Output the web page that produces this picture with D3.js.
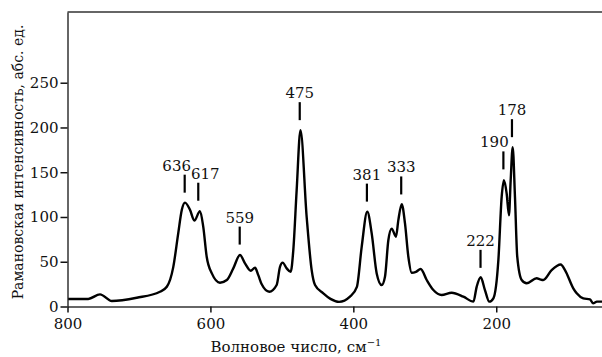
<!DOCTYPE html>
<html>
<head>
<meta charset="utf-8">
<script src="https://cdn.jsdelivr.net/npm/d3@7"></script>
<style>
  html, body { margin: 0; padding: 0; background: #fff; }
  svg { display: block; }
  text { font-family: "DejaVu Serif", serif; fill: #111; }
</style>
</head>
<body>
<svg id="chart" width="602" height="357"></svg>
<script>
// Raman spectrum: wavenumber (cm^-1) and intensity (arb. units)
const wavenumbers = [
  799, 771, 754.5, 738, 703, 670.6, 661, 652, 645, 640, 635.6, 628.6, 622.5, 614.6, 610,
  605.2, 598, 586.6, 577, 568, 558.6, 551.6, 543.6, 537.6, 533, 528.2, 517.6, 507.3, 502.6,
  498.9, 493.3, 487.7, 484, 479.3, 474, 465.3, 458.3, 453.6, 442, 432, 420, 404.7, 395,
  388.3, 380.5, 374.3, 367.3, 360.3, 355.7, 351, 346.3, 340.3, 337, 332.3, 327.7, 323,
  318.3, 312.3, 305.8, 297.3, 288, 276.4, 262.4, 246, 232, 227.4, 221.8, 215.8, 209.7,
  204, 197, 192.4, 189.2, 185.4, 182.2, 179.8, 177, 173.8, 170.6, 164.4, 157.4, 143.4,
  138.8, 134.2, 122.5, 109.8, 103.8, 92.2, 87.4, 78.2, 68.8, 64.6, 59, 52
];
const intensities = [
  8.4, 8.4, 13.6, 6.1, 9.8, 16.5, 22, 44, 82, 108, 116, 108, 96, 106.6, 89,
  55.6, 37, 26.6, 29.6, 42.6, 57.5, 48.2, 40, 43.3, 35, 24.8, 16.5, 24, 44.4,
  49, 42.6, 38.8, 63, 130, 197, 100, 40.7, 24, 14.7, 8.5, 5.2, 11, 22,
  66.7, 105.8, 81.7, 37, 24, 33.3, 74, 87, 78, 96.5, 114.4, 92.8, 55.6,
  37.7, 38.8, 41.9, 29.6, 18.4, 12.8, 15.4, 11, 5.4, 22, 32.6, 18.4, 5.4,
  9.1, 52, 122.5, 141, 126, 102, 141, 178, 122.5, 55.6, 29.6, 25.9, 31.5,
  30.4, 29.6, 40.7, 47, 40.7, 20.3, 14.7, 9.1, 8, 3.6, 5.4, 5.4
];

// Annotated peaks
const peakLabels = ["636", "617", "559", "475", "381", "333", "222", "190", "178"];
const peakPositions = [636, 617, 559, 475, 381, 333, 222, 190, 178];
const peakHeights = [116, 107, 58, 197, 106, 114, 32, 142, 178];

// Axis ticks
const xTicks = [800, 600, 400, 200];
const yTicks = [0, 50, 100, 150, 200, 250];

const xTitle = "Волновое число, см";
const xTitleSup = "−1";
const yTitle = "Рамановская интенсивность, абс. ед.";

// Layout (not data): horizontal nudges of crowded peak labels, px
const labelNudge = { "636": -8, "617": 7, "190": -9 };

const svg = d3.select("#chart");
const plotLeft = 67.5, plotRight = 602, plotTop = 12, plotBottom = 306.5;

const x = d3.scaleLinear().domain([800, 52]).range([plotLeft, plotRight]);
const y = d3.scaleLinear().domain([0, 329]).range([plotBottom, plotTop]);

const data = wavenumbers.map((w, i) => ({ w, v: intensities[i] }));

// Frame: top border
svg.append("line")
  .attr("x1", plotLeft).attr("x2", 602)
  .attr("y1", plotTop).attr("y2", plotTop)
  .attr("stroke", "#333").attr("stroke-width", 1.5);

// X axis
const xAxis = svg.append("g")
  .attr("transform", `translate(0,${plotBottom})`)
  .call(d3.axisBottom(x).tickValues(xTicks).tickSize(6).tickPadding(6).tickSizeOuter(0));
xAxis.select(".domain").attr("stroke", "#333").attr("stroke-width", 1.5);
xAxis.selectAll(".tick line").attr("stroke", "#111").attr("stroke-width", 1.5);
xAxis.selectAll("text").style("font-size", "15px").attr("fill", "#111");

// Y axis
const yAxis = svg.append("g")
  .attr("transform", `translate(${plotLeft},0)`)
  .call(d3.axisLeft(y).tickValues(yTicks).tickSize(7).tickPadding(2).tickSizeOuter(0));
yAxis.select(".domain").attr("stroke", "#333").attr("stroke-width", 1.5);
yAxis.selectAll(".tick line").attr("stroke", "#111").attr("stroke-width", 1.5);
yAxis.selectAll("text").style("font-size", "15px").attr("fill", "#111");

// Spectrum line
const line = d3.line()
  .x(d => x(d.w))
  .y(d => y(d.v))
  .curve(d3.curveMonotoneX);

svg.append("path")
  .datum(data)
  .attr("fill", "none")
  .attr("stroke", "#000")
  .attr("stroke-width", 2.4)
  .attr("stroke-linejoin", "round")
  .attr("d", line);

// Peak markers and labels
const gap = 10, markLen = 18;
const peaks = svg.append("g");
peakPositions.forEach((p, i) => {
  const px = x(p);
  const yb = y(peakHeights[i]) - gap;
  const yt = yb - markLen;
  peaks.append("line")
    .attr("x1", px).attr("x2", px)
    .attr("y1", yb).attr("y2", yt)
    .attr("stroke", "#000").attr("stroke-width", 2.2);
  peaks.append("text")
    .attr("x", px + (labelNudge[peakLabels[i]] || 0)).attr("y", yt - 4)
    .attr("text-anchor", "middle")
    .style("font-size", "15px")
    .text(peakLabels[i]);
});

// Axis titles
const xt = svg.append("text")
  .attr("x", 296).attr("y", 352)
  .attr("text-anchor", "middle")
  .style("font-size", "15px");
xt.append("tspan").text(xTitle);
xt.append("tspan").attr("dy", -6).style("font-size", "10px").text(xTitleSup);

svg.append("text")
  .attr("transform", `translate(23,162) rotate(-90)`)
  .attr("text-anchor", "middle")
  .style("font-size", "14px")
  .text(yTitle);
</script>
</body>
</html>
